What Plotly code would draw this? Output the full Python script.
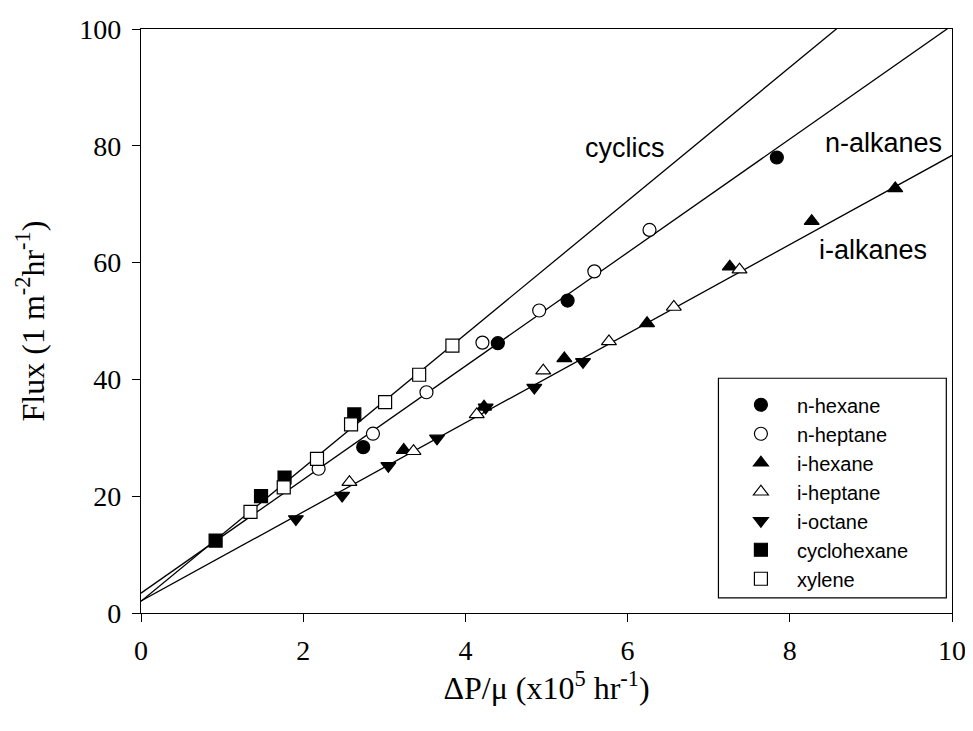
import plotly.graph_objects as go

# ---- data (x in 1e5 hr^-1, flux in l m^-2 hr^-1) ----
nhexane_x = [2.74, 4.40, 5.26, 7.84]
nhexane_y = [28.4, 46.2, 53.5, 78.0]

nheptane_x = [2.19, 2.86, 3.52, 4.21, 4.91, 5.59, 6.27]
nheptane_y = [24.7, 30.7, 37.8, 46.3, 51.8, 58.5, 65.6]

ihexane_x = [3.24, 4.23, 5.22, 6.24, 7.26, 8.27, 9.30]
ihexane_y = [27.9, 35.3, 43.6, 49.6, 59.3, 67.1, 72.7]

iheptane_x = [2.57, 3.36, 4.14, 4.96, 5.77, 6.57, 7.38]
iheptane_y = [22.4, 27.7, 34.0, 41.5, 46.5, 52.4, 58.8]

ioctane_x = [1.91, 2.48, 3.05, 3.65, 4.25, 4.85, 5.45]
ioctane_y = [16.1, 20.1, 25.2, 29.9, 35.2, 38.6, 43.0]

cyclohexane_x = [0.92, 1.48, 1.77, 2.63]
cyclohexane_y = [12.4, 20.0, 23.2, 34.0]

xylene_x = [1.35, 1.76, 2.17, 2.59, 3.01, 3.43, 3.84]
xylene_y = [17.3, 21.5, 26.4, 32.3, 36.1, 40.8, 45.8]

# fitted lines: intercept + slope * x
fit_names = ["cyclics", "n-alkanes", "i-alkanes"]
fit_intercepts = [2.0, 3.4, 2.05]
fit_slopes = [11.43, 9.72, 7.63]
fit_x_range = [0, 10]

label_x = [5.97, 9.16, 9.03]
label_y = [79.6, 80.5, 62.2]

fig = go.Figure()

for b, m in zip(fit_intercepts, fit_slopes):
    fig.add_trace(go.Scatter(
        x=fit_x_range, y=[b + m * x for x in fit_x_range],
        mode="lines", line=dict(color="black", width=1.3),
        showlegend=False, hoverinfo="skip"))

series = [
    ("n-hexane", nhexane_x, nhexane_y, "circle", "black"),
    ("n-heptane", nheptane_x, nheptane_y, "circle", "white"),
    ("i-hexane", ihexane_x, ihexane_y, "triangle-up", "black"),
    ("i-heptane", iheptane_x, iheptane_y, "triangle-up", "white"),
    ("i-octane", ioctane_x, ioctane_y, "triangle-down", "black"),
    ("cyclohexane", cyclohexane_x, cyclohexane_y, "square", "black"),
    ("xylene", xylene_x, xylene_y, "square", "white"),
]
for name, xs, ys, sym, fill in series:
    fig.add_trace(go.Scatter(
        x=xs, y=ys, mode="markers", name=name,
        marker=dict(symbol=sym, size=13, color=fill,
                    line=dict(color="black", width=1.2))))

for name, lx, ly in zip(fit_names, label_x, label_y):
    fig.add_annotation(x=lx, y=ly, text=name, showarrow=False,
                       font=dict(family="Liberation Sans, Arial", size=27, color="black"))

axis_font = dict(family="Liberation Serif, Times New Roman", size=28, color="black")
title_font = dict(family="Liberation Serif, Times New Roman", size=32, color="black")

fig.update_xaxes(range=[0, 10], tickvals=[0, 2, 4, 6, 8, 10],
                 showgrid=False, zeroline=False, showline=True, linecolor="black",
                 linewidth=1.3, mirror=True, ticks="outside", ticklen=8, tickwidth=1.2,
                 tickcolor="black", tickfont=axis_font, ticklabelstandoff=4,
                 ticklabeloverflow="allow", automargin=False,
                 title=dict(text="ΔP/μ (x10<sup>5</sup> hr<sup>-1</sup>)", font=title_font,
                            standoff=10))
fig.update_yaxes(range=[0, 100], tickvals=[0, 20, 40, 60, 80, 100],
                 showgrid=False, zeroline=False, showline=True, linecolor="black",
                 linewidth=1.3, mirror=True, ticks="outside", ticklen=8, tickwidth=1.2,
                 tickcolor="black", tickfont=axis_font, ticklabelstandoff=5,
                 ticklabeloverflow="allow", automargin=False,
                 title=dict(text="Flux (1 m<sup>-2</sup>hr<sup>-1</sup>)", font=title_font,
                            standoff=25))

# legend frame
fig.add_shape(type="rect", xref="paper", yref="paper",
              x0=0.712, x1=0.993, y0=0.026, y1=0.402,
              line=dict(color="black", width=1.2), fillcolor="white", layer="below")

# the page body has an 8px margin, so the figure is offset by 8px
fig.update_layout(
    width=957, height=715,
    margin=dict(l=133, r=13, t=21, b=110, autoexpand=False),
    plot_bgcolor="white", paper_bgcolor="white",
    showlegend=True,
    legend=dict(x=0.72, y=0.39, xanchor="left", yanchor="top",
                bgcolor="rgba(0,0,0,0)", borderwidth=0,
                font=dict(family="Liberation Sans, Arial", size=20, color="black"),
                itemwidth=62, tracegroupgap=0),
)

fig.write_html("out.html")
